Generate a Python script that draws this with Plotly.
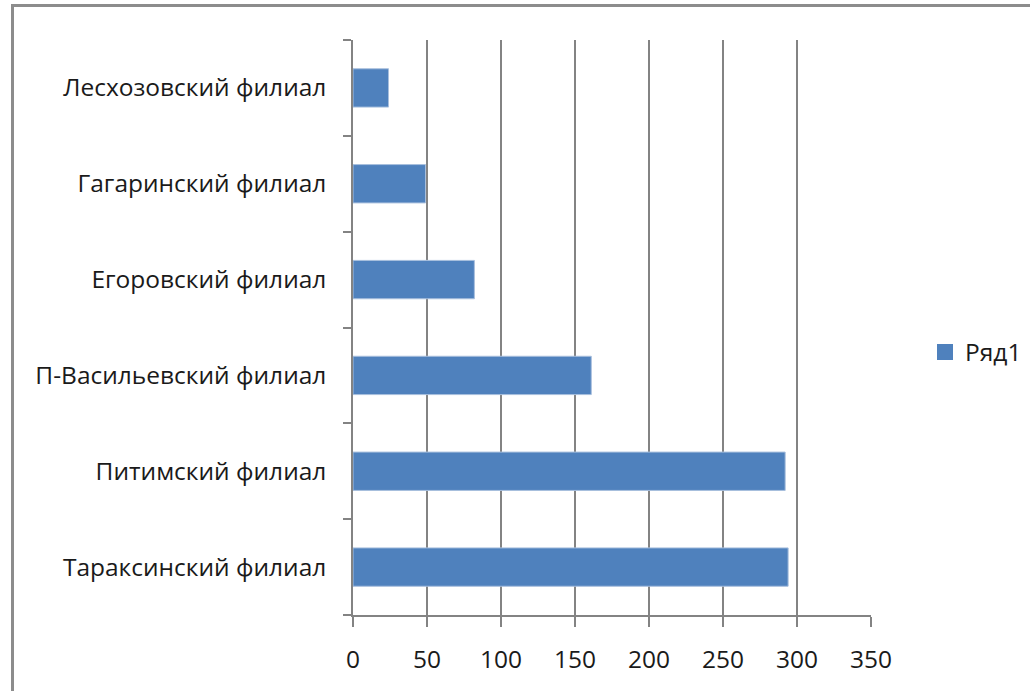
import plotly.graph_objects as go

categories = ["Тараксинский филиал", "Питимский филиал", "П-Васильевский филиал",
              "Егоровский филиал", "Гагаринский филиал", "Лесхозовский филиал"]
values = [294, 292, 161, 82, 49, 24]
series_name = "Ряд1"
x_ticks = [0, 50, 100, 150, 200, 250, 300, 350]

BAR = "#4F81BD"
GRID = "#838383"
FONT = "Open Sans"

W, H = 1030, 691
L, R, T, B = 353, 871, 40, 615

fig = go.Figure()
fig.add_trace(go.Bar(
    x=values, y=categories, orientation="h", name=series_name,
    marker=dict(color=BAR, line=dict(color="#a8bfdd", width=1)),
    showlegend=False,
))
# legend proxy with a larger square symbol
fig.add_trace(go.Scatter(
    x=[None], y=[None], mode="markers", name=series_name,
    marker=dict(symbol="square", size=17, color=BAR), showlegend=True,
))

pw, ph = R - L, B - T
def px(xp):
    return (xp - L) / pw
def py(yp):
    return (B - yp) / ph

fig.update_layout(
    width=W, height=H,
    margin=dict(l=L, r=W - R, t=T, b=H - B, autoexpand=False),
    paper_bgcolor="white", plot_bgcolor="white",
    font=dict(family=FONT, size=24.5, color="#1a1a1a"),
    bargap=0.6,
    legend=dict(x=px(925), y=py(352), xanchor="left", yanchor="middle",
                font=dict(family=FONT, size=24.5, color="#1a1a1a"),
                bgcolor="rgba(0,0,0,0)"),
    xaxis=dict(range=[0, 350], tickvals=x_ticks, showgrid=True, gridcolor=GRID,
               gridwidth=1.5, zeroline=False, showline=True, linecolor=GRID, linewidth=1.5,
               ticks="outside", ticklen=10, tickcolor=GRID, tickwidth=1.5,
               ticklabelstandoff=12, fixedrange=True),
    yaxis=dict(type="category", categoryorder="array", categoryarray=categories,
               showgrid=False, zeroline=False, showline=True, linecolor=GRID, linewidth=1.5,
               ticks="outside", ticklen=8, tickcolor=GRID, tickwidth=1.5,
               tickson="boundaries", ticklabelstandoff=20, fixedrange=True),
    shapes=[dict(type="rect", xref="paper", yref="paper",
                 x0=px(12.5), x1=px(1045), y0=py(710), y1=py(5.5),
                 line=dict(color="#8c8c8c", width=3), fillcolor="rgba(0,0,0,0)", layer="below")],
)

fig.write_html("out.html", config={"displayModeBar": False},
               post_script="document.body.style.margin='0';")
